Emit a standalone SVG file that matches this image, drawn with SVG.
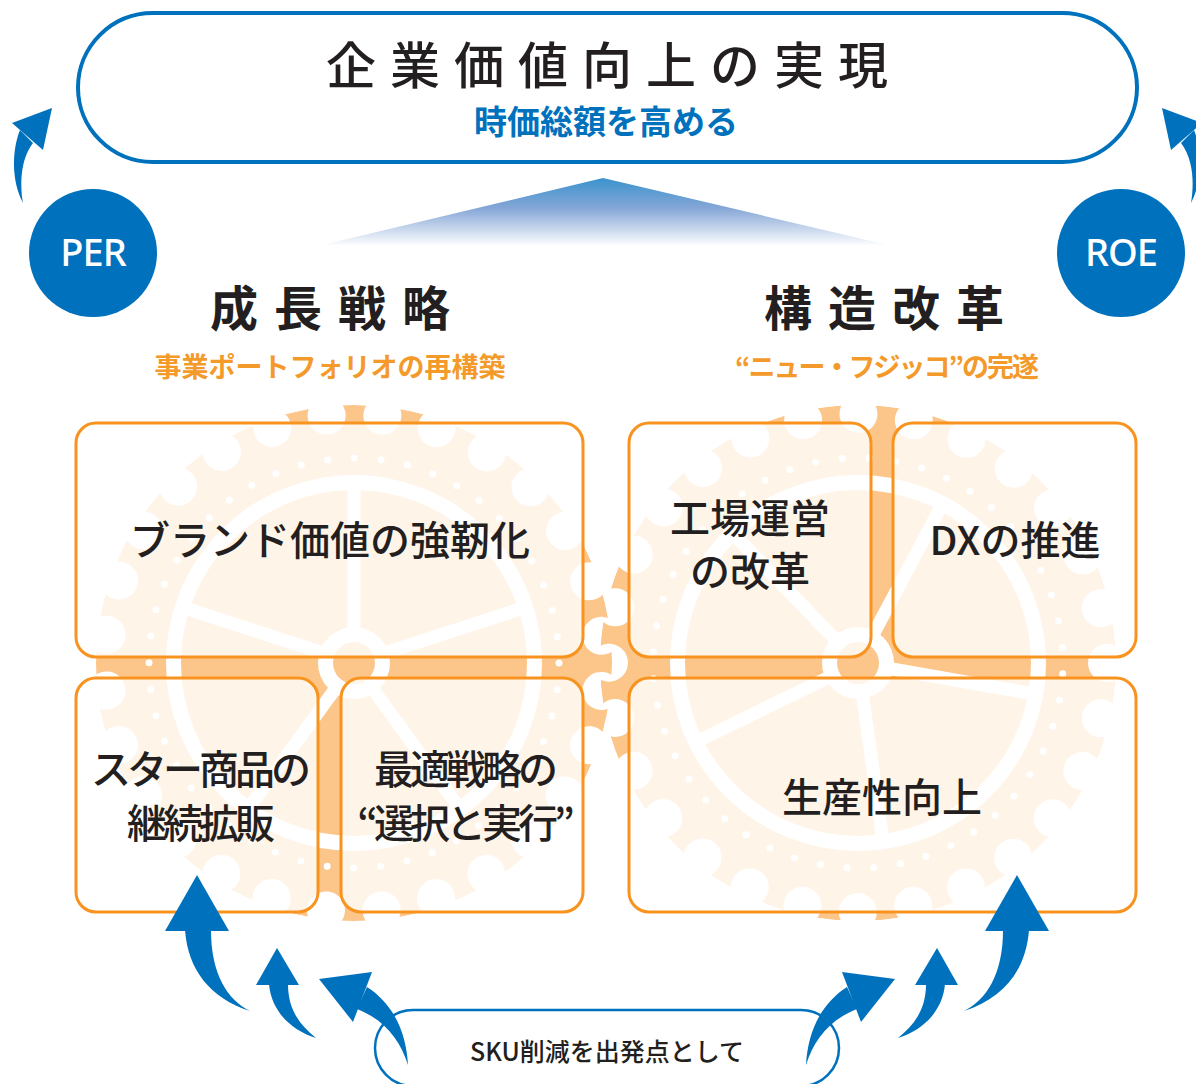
<svg xmlns="http://www.w3.org/2000/svg" xmlns:xlink="http://www.w3.org/1999/xlink" width="1196" height="1084" viewBox="0 0 1196 1084">
  <style>
    .jp { font-family: "Noto Sans CJK JP", "Noto Sans", sans-serif; }
    .ink { fill: #231F20; }
    .blue { fill: #0071BC; }
    .orange-txt { fill: #F39A2B; }
    .gear-body { fill: #FCC68A; }
    .rim { fill: none; stroke: #fff; stroke-width: 15; }
    .dots { fill: none; stroke: #fff; stroke-width: 7; stroke-linecap: round; stroke-dasharray: 0 26.834; }
    .spoke { stroke: #fff; stroke-width: 13; }
    .box { fill: #fff; fill-opacity: 0.8; stroke: #F7931E; stroke-width: 3; }
    .box-label { font-size: 40px; font-weight: 500; text-anchor: middle; dominant-baseline: central; }
    .arrow { fill: #0071BC; }
    .badge { font-family: "Noto Sans", "Open Sans", sans-serif; font-size: 38px; font-weight: 500; fill: #fff; text-anchor: middle; }
  </style>
  <defs>
    <!-- tooth profile: full disc with 28 round notches punched out -->
    <mask id="teeth" maskUnits="userSpaceOnUse" x="-280" y="-280" width="560" height="560">
      <circle r="258" fill="#fff"/>
      <circle r="249" fill="none" stroke="#000" stroke-width="38" stroke-linecap="round" stroke-dasharray="0 55.8756"/>
    </mask>
    <linearGradient id="rise" gradientUnits="userSpaceOnUse" x1="0" y1="178" x2="0" y2="246">
      <stop offset="0" stop-color="#3A93CD"/>
      <stop offset="0.45" stop-color="#86A7D7"/>
      <stop offset="1" stop-color="#FFFFFF"/>
    </linearGradient>
    <g id="spokes">
      <line class="spoke" x1="0" y1="0" x2="0" y2="-178"/>
      <line class="spoke" x1="0" y1="0" x2="0" y2="-178" transform="rotate(72)"/>
      <line class="spoke" x1="0" y1="0" x2="0" y2="-178" transform="rotate(144)"/>
      <line class="spoke" x1="0" y1="0" x2="0" y2="-178" transform="rotate(216)"/>
      <line class="spoke" x1="0" y1="0" x2="0" y2="-178" transform="rotate(288)"/>
    </g>
  </defs>

  <rect width="1196" height="1084" fill="#fff"/>

  <!-- background gears -->
  <g id="gear-left" transform="translate(354,663)">
    <circle class="gear-body" r="258" mask="url(#teeth)" transform="rotate(6.4286)"/>
    <circle class="rim" r="180.5"/>
    <circle class="dots" r="205"/>
    <use href="#spokes"/>
    <circle r="36" fill="#fff"/>
    <circle r="21" class="gear-body"/>
  </g>
  <g id="gear-right" transform="translate(858,663)">
    <circle r="258" fill="#fff" mask="url(#teeth)" transform="scale(1.013)"/>
    <circle class="gear-body" r="258" mask="url(#teeth)"/>
    <circle class="rim" r="180.5"/>
    <circle class="dots" r="205" transform="rotate(3)"/>
    <use href="#spokes" transform="rotate(28)"/>
    <circle r="36" fill="#fff"/>
    <circle r="21" class="gear-body"/>
  </g>

  <!-- goal banner -->
  <g id="goal">
    <rect x="78" y="13" width="1059" height="149" rx="75" fill="#fff" stroke="#0071BC" stroke-width="4"/>
    <text class="jp ink" x="614" y="62" font-size="50" font-weight="500" letter-spacing="14" text-anchor="middle" dominant-baseline="central">企業価値向上の実現</text>
    <text class="jp blue" x="606" y="120" font-size="33" font-weight="700" text-anchor="middle" dominant-baseline="central">時価総額を高める</text>
  </g>

  <polygon id="rise-wedge" points="603,178 888,245 322,245" fill="url(#rise)"/>

  <!-- valuation drivers -->
  <g id="per">
    <circle cx="93" cy="253" r="64" fill="#0071BC"/>
    <text class="badge" x="93" y="266" letter-spacing="-1">PER</text>
  </g>
  <g id="roe">
    <circle cx="1121" cy="253" r="64" fill="#0071BC"/>
    <text class="badge" x="1121" y="266" letter-spacing="-1">ROE</text>
  </g>

  <!-- strategy headings -->
  <g id="growth-heading">
    <text class="jp ink" x="338" y="305" font-size="48" font-weight="700" letter-spacing="16" text-anchor="middle" dominant-baseline="central">成長戦略</text>
    <text class="jp orange-txt" x="330" y="365" font-size="27" font-weight="700" text-anchor="middle" dominant-baseline="central">事業ポートフォリオの再構築</text>
  </g>
  <g id="reform-heading">
    <text class="jp ink" x="892" y="305" font-size="48" font-weight="700" letter-spacing="16" text-anchor="middle" dominant-baseline="central">構造改革</text>
    <text class="jp orange-txt" x="886" y="365" font-size="27" font-weight="700" letter-spacing="-2" text-anchor="middle" dominant-baseline="central">“ニュー・フジッコ”の完遂</text>
  </g>

  <!-- growth strategy boxes -->
  <g id="brand">
    <rect class="box" x="76" y="423" width="507" height="234" rx="20"/>
    <text class="jp ink box-label" x="330" y="538" font-size="41">ブランド価値の強靭化</text>
  </g>
  <g id="star-products">
    <rect class="box" x="76" y="678" width="242" height="234" rx="20"/>
    <text class="jp ink box-label" x="199" y="767" letter-spacing="-4">スター商品の</text>
    <text class="jp ink box-label" x="199" y="821" letter-spacing="-4">継続拡販</text>
  </g>
  <g id="optimal-strategy">
    <rect class="box" x="341" y="678" width="242" height="234" rx="20"/>
    <text class="jp ink box-label" x="464" y="767" letter-spacing="-4">最適戦略の</text>
    <text class="jp ink box-label" x="464" y="821" letter-spacing="-4">“選択と実行”</text>
  </g>

  <!-- structural reform boxes -->
  <g id="factory">
    <rect class="box" x="629" y="423" width="242" height="234" rx="20"/>
    <text class="jp ink box-label" x="750" y="516">工場運営</text>
    <text class="jp ink box-label" x="750" y="569">の改革</text>
  </g>
  <g id="dx">
    <rect class="box" x="893" y="423" width="243" height="234" rx="20"/>
    <text class="jp ink box-label" x="1015" y="538" font-size="41">DXの推進</text>
  </g>
  <g id="productivity">
    <rect class="box" x="629" y="678" width="507" height="234" rx="20"/>
    <text class="jp ink box-label" x="882" y="795" font-size="42">生産性向上</text>
  </g>

  <!-- starting point -->
  <g id="sku">
    <rect x="375" y="1010" width="464" height="76" rx="38" fill="#fff" stroke="#0071BC" stroke-width="2.5"/>
    <text class="jp ink" x="607" y="1050" font-size="25" font-weight="500" text-anchor="middle" dominant-baseline="central">SKU削減を出発点として</text>
  </g>

  <!-- connectors: curved arrows -->
  <g id="connectors">
    <g id="arrows-left">
      <polygon class="arrow" points="52,108 12,123 43,150"/>
      <path class="arrow" d="M20,130 C12,150 11,180 23,203 C20,185 20,160 33,143 Z"/>

      <polygon class="arrow" points="197,875 229,931 165,931"/>
      <path class="arrow" d="M185,930 C188,970 210,998 250,1011 C228,1000 211,975 211,930 Z"/>

      <polygon class="arrow" points="277,948 299,985 256,985"/>
      <path class="arrow" d="M269,984 C271,1010 290,1030 316,1038 C300,1025 288,1010 288,984 Z"/>

      <polygon class="arrow" points="319,979 372,972 353,1022"/>
      <path class="arrow" d="M367,987 C392,1003 406,1030 408,1065 C400,1040 385,1020 357,1009 Z"/>
    </g>
    <g id="arrows-right" transform="translate(1214,0) scale(-1,1)">
      <polygon class="arrow" points="52,108 12,123 43,150"/>
      <path class="arrow" d="M20,130 C12,150 11,180 23,203 C20,185 20,160 33,143 Z"/>

      <polygon class="arrow" points="197,875 229,931 165,931"/>
      <path class="arrow" d="M185,930 C188,970 210,998 250,1011 C228,1000 211,975 211,930 Z"/>

      <polygon class="arrow" points="277,948 299,985 256,985"/>
      <path class="arrow" d="M269,984 C271,1010 290,1030 316,1038 C300,1025 288,1010 288,984 Z"/>

      <polygon class="arrow" points="319,979 372,972 353,1022"/>
      <path class="arrow" d="M367,987 C392,1003 406,1030 408,1065 C400,1040 385,1020 357,1009 Z"/>
    </g>
  </g>
</svg>
